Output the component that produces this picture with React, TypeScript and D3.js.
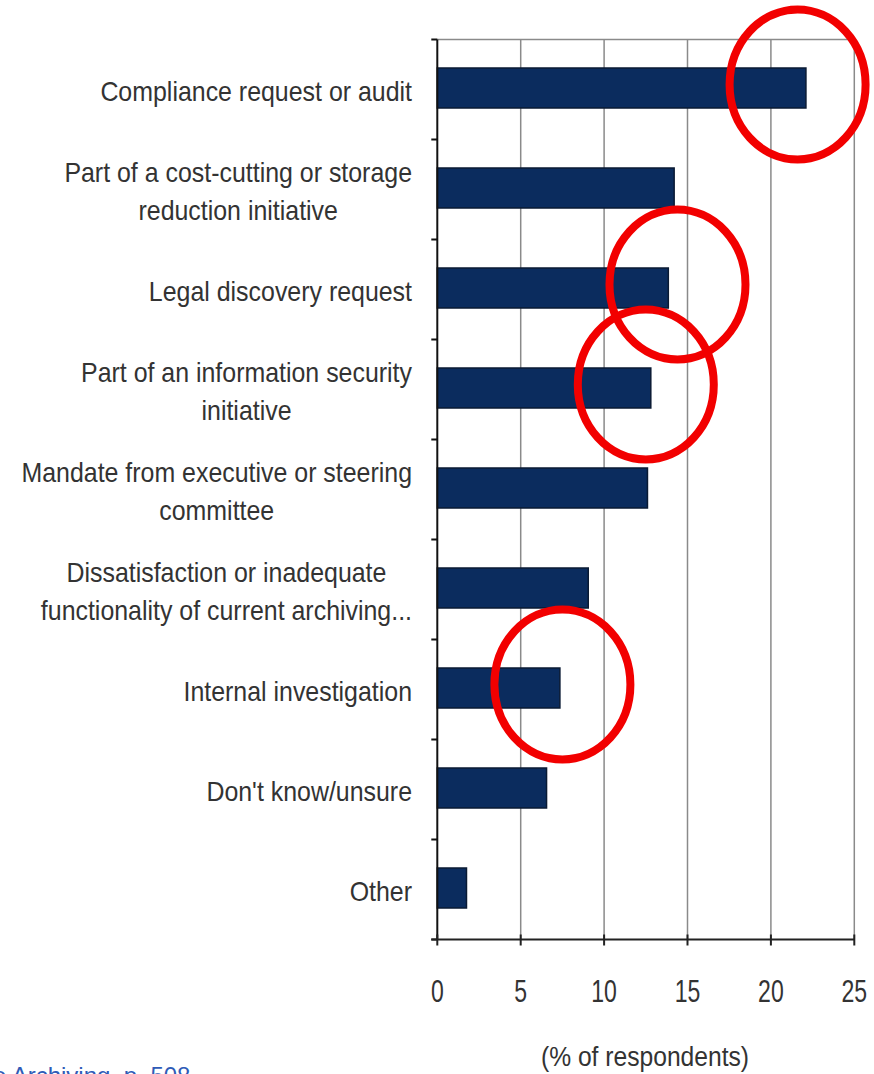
import React, { useEffect, useRef } from "react";
import * as d3 from "d3";

const categories: string[][] = [
  ["Compliance request or audit"],
  ["Part of a cost-cutting or storage", "reduction initiative"],
  ["Legal discovery request"],
  ["Part of an information security", "initiative"],
  ["Mandate from executive or steering", "committee"],
  ["Dissatisfaction or inadequate", "functionality of current archiving..."],
  ["Internal investigation"],
  ["Don't know/unsure"],
  ["Other"],
];
const values: number[] = [22.1, 14.2, 13.85, 12.8, 12.6, 9.05, 7.35, 6.55, 1.75];
const xTicks: number[] = [0, 5, 10, 15, 20, 25];
const axisTitle = "(% of respondents)";
const sourceNote = "e Archiving, p. 508";
// annotation circles: category index and value they surround
const highlights = [
  { cat: 0, value: 21.6 },
  { cat: 2, value: 14.4 },
  { cat: 3, value: 12.5 },
  { cat: 6, value: 7.5 },
];

const W = 874;
const H = 1074;
const M = { left: 437.3, right: 854.3, top: 39.5, bottom: 939.5 };
const FONT = "'Liberation Sans', Arial, sans-serif";

export default function App() {
  const ref = useRef<SVGSVGElement>(null);
  useEffect(() => {
    const svg = d3.select(ref.current);
    svg.selectAll("*").remove();
    const x = d3.scaleLinear().domain([0, 25]).range([M.left, M.right]);
    const y = d3
      .scaleBand<number>()
      .domain(d3.range(categories.length))
      .range([M.top, M.bottom])
      .paddingInner(0.6)
      .paddingOuter(0.3);
    const band = d3.scaleBand<number>().domain(d3.range(categories.length)).range([M.top, M.bottom]);

    svg.append("rect").attr("width", W).attr("height", H).attr("fill", "#fff");

    // gridlines
    svg
      .append("g")
      .selectAll("line")
      .data(xTicks.slice(1))
      .join("line")
      .attr("x1", (d) => x(d))
      .attr("x2", (d) => x(d))
      .attr("y1", M.top)
      .attr("y2", M.bottom)
      .attr("stroke", "#8a8a8a")
      .attr("stroke-width", 1.5);
    svg
      .append("line")
      .attr("x1", M.left)
      .attr("x2", M.right)
      .attr("y1", M.top)
      .attr("y2", M.top)
      .attr("stroke", "#8a8a8a")
      .attr("stroke-width", 1.5);

    // bars
    svg
      .append("g")
      .selectAll("rect")
      .data(values)
      .join("rect")
      .attr("x", x(0))
      .attr("y", (_, i) => (y(i) as number) - 1.5)
      .attr("width", (d) => x(d) - x(0))
      .attr("height", y.bandwidth())
      .attr("fill", "#0b2c5e")
      .attr("stroke", "#0a1a33")
      .attr("stroke-width", 1.5);

    // left axis
    svg
      .append("line")
      .attr("x1", M.left)
      .attr("x2", M.left)
      .attr("y1", M.top)
      .attr("y2", M.bottom)
      .attr("stroke", "#111")
      .attr("stroke-width", 2);
    svg
      .append("g")
      .selectAll("line")
      .data(d3.range(categories.length + 1))
      .join("line")
      .attr("x1", M.left - 6)
      .attr("x2", M.left)
      .attr("y1", (i) => M.top + i * band.step())
      .attr("y2", (i) => M.top + i * band.step())
      .attr("stroke", "#111")
      .attr("stroke-width", 2);

    // bottom axis
    svg
      .append("line")
      .attr("x1", M.left - 6)
      .attr("x2", M.right)
      .attr("y1", M.bottom)
      .attr("y2", M.bottom)
      .attr("stroke", "#222")
      .attr("stroke-width", 2);
    svg
      .append("g")
      .selectAll("line")
      .data(xTicks)
      .join("line")
      .attr("x1", (d) => x(d))
      .attr("x2", (d) => x(d))
      .attr("y1", M.bottom - 5)
      .attr("y2", M.bottom + 6)
      .attr("stroke", "#222")
      .attr("stroke-width", 2);
    svg
      .append("g")
      .selectAll("text")
      .data(xTicks)
      .join("text")
      .attr("transform", (d) => `translate(${x(d)},1002) scale(0.72,1)`)
      .attr("text-anchor", "middle")
      .attr("font-family", FONT)
      .attr("font-size", 32)
      .attr("fill", "#333")
      .text((d) => String(d));

    svg
      .append("text")
      .attr("transform", "translate(645,1066) scale(0.88,1)")
      .attr("text-anchor", "middle")
      .attr("font-family", FONT)
      .attr("font-size", 28)
      .attr("fill", "#333")
      .text(axisTitle);

    // category labels
    const labelRight = 412;
    const lineH = 38;
    const sx = 0.89;
    categories.forEach((lines, i) => {
      const cy = (band(i) as number) + band.bandwidth() / 2 + 2;
      const g = svg.append("g").attr("transform", `translate(${labelRight},0) scale(${sx},1)`);
      const texts = lines.map((ln, j) =>
        g
          .append("text")
          .attr("y", cy + (j - (lines.length - 1) / 2) * lineH)
          .attr("dy", "0.35em")
          .attr("text-anchor", "middle")
          .attr("font-family", FONT)
          .attr("font-size", 28)
          .attr("fill", "#333")
          .text(ln)
      );
      const widths = texts.map((t) => (t.node() as SVGTextElement).getComputedTextLength());
      const maxW = Math.max(...widths);
      texts.forEach((t) => t.attr("x", -maxW / 2));
    });

    // source note
    svg
      .append("text")
      .attr("x", -7)
      .attr("y", 1084)
      .attr("font-family", FONT)
      .attr("font-size", 24)
      .attr("fill", "#2f5bb7")
      .text(sourceNote);

    // red highlight circles
    svg
      .append("g")
      .selectAll("ellipse")
      .data(highlights)
      .join("ellipse")
      .attr("cx", (d) => x(d.value))
      .attr("cy", (d) => (band(d.cat) as number) + band.bandwidth() / 2 - 5)
      .attr("rx", 68)
      .attr("ry", 75)
      .attr("fill", "none")
      .attr("stroke", "#f20000")
      .attr("stroke-width", 8);
  }, []);
  return (
    <svg
      ref={ref}
      width={W}
      height={H}
      style={{ display: "block", position: "absolute", left: 0, top: 0 }}
    />
  );
}
